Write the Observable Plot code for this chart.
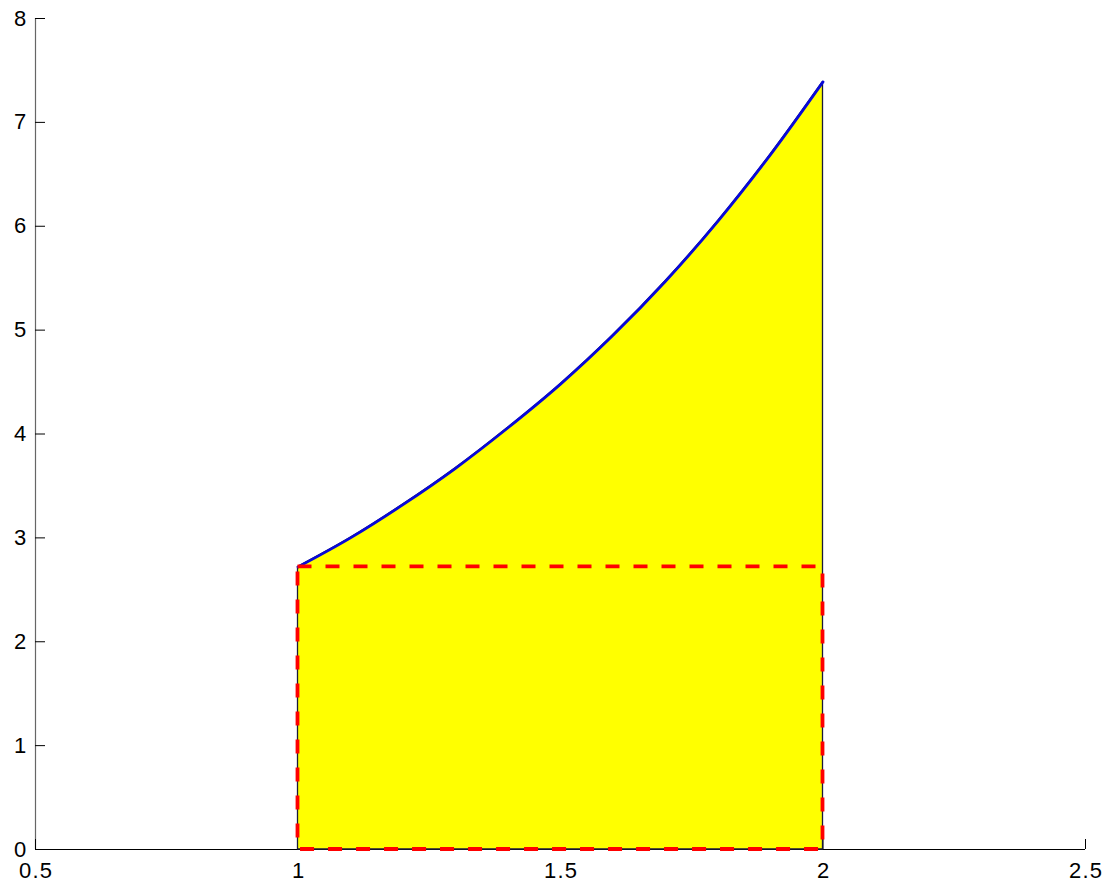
<!DOCTYPE html>
<html>
<head>
<meta charset="utf-8">
<script src="https://cdn.jsdelivr.net/npm/d3@7"></script>
<script src="https://cdn.jsdelivr.net/npm/@observablehq/plot@0.6"></script>
<style>
  html, body { margin: 0; padding: 0; background: #fff; }
  #chart svg { display: block; overflow: visible; }
  #chart svg text { letter-spacing: 1.2px; }
</style>
</head>
<body>
<div id="chart"></div>
<script>
// Curve samples on [1, 2]
const curveX = [1.0, 1.1, 1.2, 1.3, 1.4, 1.5, 1.6, 1.7, 1.8, 1.9, 2.0];
const curveY = [2.72, 3.00, 3.32, 3.67, 4.06, 4.48, 4.95, 5.47, 6.05, 6.69, 7.39];

// Axis domains and ticks
const xDomain = [0.5, 2.5];
const yDomain = [0, 8];
const xTicks = [0.5, 1, 1.5, 2, 2.5];
const yTicks = [0, 1, 2, 3, 4, 5, 6, 7, 8];

const curve = curveX.map((x, i) => ({x, y: curveY[i]}));
// Lower rectangle: height = value of the curve at the left end
const lowerRect = [{x1: curveX[0], x2: curveX[curveX.length - 1], y1: 0, y2: curveY[0]}];

const font = "'Liberation Sans', Arial, Helvetica, sans-serif";

const chart = Plot.plot({
  width: 1104,
  height: 880,
  marginLeft: 35,
  marginRight: 19,
  marginTop: 18,
  marginBottom: 31,
  style: {fontFamily: font, fontSize: "22px", color: "#000", background: "#fff"},
  x: {domain: xDomain},
  y: {domain: yDomain},
  marks: [
    // axis lines (left and bottom only)
    Plot.ruleX([xDomain[0]], {y1: yDomain[0], y2: yDomain[1], stroke: "#666", strokeWidth: 1.2}),
    Plot.ruleY([yDomain[0]], {x1: xDomain[0], x2: xDomain[1], stroke: "#000", strokeWidth: 1.2}),
    // inward tick marks
    Plot.axisX({ticks: xTicks, tickSize: -10, tickFormat: () => "", label: null}),
    Plot.axisY({ticks: yTicks, tickSize: -10, tickFormat: () => "", label: null}),
    // tick labels
    Plot.axisX({ticks: xTicks, tickSize: 0, tickPadding: 13, dx: 0.6, tickFormat: d => String(d), label: null, fontSize: 22}),
    Plot.axisY({ticks: yTicks, tickSize: 0, tickPadding: 8, tickFormat: d => String(d), label: null, fontSize: 22}),
    // filled region under the curve
    Plot.areaY(curve, {x: "x", y: "y", curve: "catmull-rom", fill: "#ffff00", stroke: "#1a1a3a", strokeWidth: 1.3}),
    // the curve itself
    Plot.line(curve, {x: "x", y: "y", curve: "catmull-rom", stroke: "#0808d8", strokeWidth: 2.8}),
    // dashed rectangle
    Plot.rect(lowerRect, {x1: "x1", x2: "x2", y1: "y1", y2: "y2", fill: "none", stroke: "#ff0000", strokeWidth: 3.8, strokeDasharray: "14,14"})
  ]
});

document.getElementById("chart").appendChild(chart);
</script>
</body>
</html>
